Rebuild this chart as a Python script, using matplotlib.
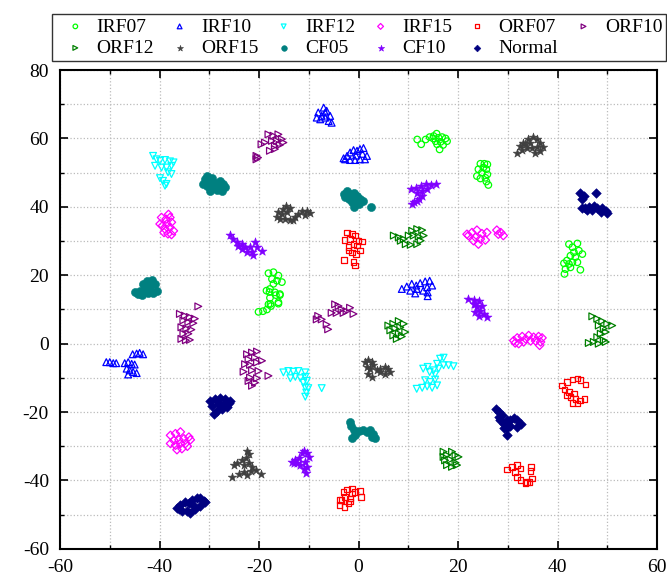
import matplotlib
matplotlib.use("Agg")
import matplotlib.pyplot as plt
from matplotlib.ticker import MultipleLocator

plt.rcParams["font.family"] = ["Liberation Serif", "DejaVu Serif"]
plt.rcParams["axes.unicode_minus"] = False

# t-SNE embedding, points (x, y) per class
IRF07 = [
    (11.8, 59.7), (12.6, 58.3), (13.5, 59.7), (14.3, 60.4), (15.1, 60.7), (15.7, 61.4),
    (16.1, 60.2), (16.8, 60.4), (17.5, 60.0), (17.8, 59.2), (17.0, 58.1), (16.3, 56.8),
    (15.8, 58.3), (15.5, 59.2), (15.0, 60.0), (16.5, 59.0),
    (24.5, 52.6), (25.3, 52.6), (25.9, 52.4), (24.1, 51.0), (25.7, 51.0), (24.8, 50.0),
    (23.8, 49.0), (24.5, 48.3), (25.5, 48.5), (25.7, 47.4), (26.1, 46.4), (25.9, 49.5),
    (25.1, 51.5),
    (42.3, 29.1), (43.0, 28.2), (44.0, 29.3), (43.3, 26.7), (44.3, 27.2), (45.0, 26.2),
    (42.6, 25.7), (43.6, 25.3), (41.9, 24.3), (41.3, 23.5), (42.3, 23.3), (43.0, 23.8),
    (44.0, 23.8), (41.6, 21.8), (41.4, 20.4), (44.6, 21.6), (42.6, 22.3),
    (-18.1, 20.6), (-17.1, 20.9), (-16.1, 19.9), (-17.4, 18.9), (-16.4, 18.4),
    (-15.4, 18.0), (-17.1, 17.5), (-17.8, 16.0), (-18.5, 15.5), (-16.8, 15.0),
    (-15.8, 14.5), (-16.1, 12.1), (-17.7, 11.6), (-17.9, 15.1), (-16.6, 14.2),
    (-15.8, 14.2), (-17.8, 13.4), (-18.1, 11.5), (-17.6, 11.0), (-18.4, 10.0),
    (-19.2, 9.5), (-20.1, 9.3), (-16.1, 11.7),
]
IRF10 = [
    (-8.1, 67.6), (-7.0, 69.0), (-6.4, 68.1), (-7.4, 66.6), (-8.4, 66.1), (-6.7, 66.1),
    (-5.7, 66.6), (-6.0, 65.1), (-5.4, 64.6), (-7.7, 65.6), (-6.7, 67.6),
    (-3.0, 54.2), (-2.3, 54.9), (-1.7, 55.9), (-1.0, 56.6), (-0.3, 56.4), (0.3, 56.9),
    (1.0, 57.2), (1.7, 54.9), (1.3, 53.9), (0.3, 53.9), (-0.7, 53.7), (-1.7, 53.7),
    (-2.7, 53.9), (0.8, 55.5), (-0.5, 55.0),
    (8.7, 16.0), (9.7, 16.7), (10.7, 17.5), (11.6, 17.0), (12.4, 17.7), (13.4, 18.2),
    (14.3, 18.4), (14.8, 17.0), (13.8, 16.5), (13.9, 15.0), (13.0, 15.5), (11.7, 16.0),
    (10.4, 15.5), (11.4, 14.7), (13.9, 13.9),
    (-50.7, -5.4), (-50.0, -5.4), (-49.3, -5.7), (-48.7, -5.7), (-47.0, -5.7),
    (-46.3, -5.4), (-45.6, -5.9), (-45.0, -6.1), (-45.4, -3.1), (-44.6, -2.9),
    (-44.0, -2.7), (-43.3, -3.1), (-46.6, -7.3), (-46.0, -7.8), (-45.3, -8.3),
    (-44.6, -8.6), (-46.3, -9.0),
]
IRF12 = [
    (-41.3, 54.9), (-40.6, 53.9), (-39.9, 53.5), (-38.9, 53.7), (-37.9, 53.3), (-37.2, 53.0),
    (-40.9, 52.0), (-39.6, 51.5), (-38.6, 51.5), (-38.3, 50.1), (-37.6, 49.6), (-39.9, 48.4),
    (-39.3, 47.6), (-38.6, 46.7), (-38.9, 46.2), (-37.6, 52.0),
    (-15.1, -8.4), (-14.1, -8.0), (-13.1, -8.2), (-12.1, -8.0), (-10.7, -8.4), (-13.7, -10.1),
    (-12.7, -9.7), (-11.7, -10.1), (-10.7, -9.7), (-11.1, -11.4), (-10.4, -10.9),
    (-10.7, -12.8), (-10.1, -13.0), (-10.5, -14.3), (-10.7, -15.5), (-7.4, -13.0),
    (11.7, -13.2), (12.8, -12.9), (13.8, -12.5), (14.8, -12.9), (15.8, -12.2), (13.4, -10.7),
    (14.4, -11.2), (15.4, -10.5), (13.0, -7.3), (13.9, -6.8), (15.1, -7.8), (16.1, -7.3),
    (17.1, -6.3), (18.1, -6.3), (19.1, -6.6), (16.4, -4.4), (17.1, -4.1), (15.8, -5.9),
    (14.3, -8.3), (15.4, -9.0),
]
IRF15 = [
    (-39.6, 36.9), (-38.7, 36.4), (-37.9, 36.9), (-37.6, 35.5), (-38.5, 35.0), (-39.4, 34.5),
    (-39.9, 35.0), (-38.9, 33.5), (-37.9, 34.0), (-37.2, 33.0), (-38.3, 32.1), (-37.6, 31.9),
    (-39.1, 32.5), (-38.2, 37.8),
    (-37.8, -26.8), (-36.8, -26.3), (-35.8, -25.8), (-37.1, -28.3), (-36.1, -28.1),
    (-35.1, -27.8), (-34.1, -27.3), (-33.8, -28.1), (-37.8, -29.2), (-36.8, -29.7),
    (-35.8, -29.2), (-34.8, -29.2), (-36.5, -31.0), (-35.5, -30.7), (-34.4, -30.0),
    (21.8, 32.0), (22.8, 32.5), (23.8, 33.2), (24.8, 32.2), (25.8, 32.5), (23.5, 31.1),
    (24.5, 30.6), (25.5, 30.3), (24.1, 29.1), (23.1, 30.1), (22.1, 31.6),
    (27.8, 33.2), (28.6, 32.5), (29.1, 31.6), (28.1, 32.0),
    (31.2, 0.9), (31.9, 1.7), (32.9, 2.1), (33.6, 1.4), (34.2, 2.4), (35.2, 1.9),
    (36.2, 2.1), (36.9, 1.7), (36.6, 0.5), (36.4, -0.5), (35.6, 0.8), (34.6, 0.8),
    (33.2, 0.5), (32.2, 0.0), (31.5, 0.2),
]
ORF07 = [
    (-2.3, 32.5), (-1.3, 32.1), (-0.7, 31.6), (-1.7, 30.6), (0.0, 30.1), (0.7, 29.9),
    (-1.0, 29.1), (-2.0, 28.2), (-0.3, 28.7), (-1.3, 26.7), (-0.5, 26.2), (-1.0, 23.8),
    (-0.7, 22.8), (-2.9, 24.5), (-2.0, 27.2), (0.3, 27.2), (-2.8, 30.3),
    (40.9, -12.2), (41.9, -11.2), (43.0, -10.5), (44.0, -10.2), (44.6, -10.7), (45.6, -11.9),
    (41.4, -13.4), (42.3, -14.1), (43.3, -14.6), (42.6, -15.6), (43.6, -16.1), (44.5, -16.6),
    (45.4, -16.1), (43.0, -17.3), (44.0, -17.5), (41.9, -15.1),
    (29.9, -36.8), (30.9, -36.0), (31.9, -35.5), (32.6, -36.5), (31.5, -37.5), (31.9, -38.9),
    (32.6, -39.9), (33.6, -40.7), (34.4, -40.4), (34.9, -39.4), (34.6, -37.2), (34.7, -36.0),
    (33.9, -40.4),
    (-3.0, -43.3), (-2.3, -42.6), (-1.3, -42.3), (-0.7, -43.3), (0.3, -43.0), (0.5, -44.8),
    (-2.7, -44.8), (-1.7, -45.3), (-2.0, -46.7), (-3.4, -45.7), (-1.3, -43.8),
    (-3.7, -45.7), (-3.8, -47.2), (-2.8, -47.7), (-1.7, -46.2),
]
ORF10 = [
    (-18.1, 61.2), (-17.1, 60.8), (-16.1, 61.2), (-15.4, 59.8), (-16.4, 59.3), (-17.4, 59.3),
    (-16.8, 57.8), (-15.8, 58.1), (-15.1, 58.8), (-19.5, 58.3), (-18.8, 58.8), (-20.5, 54.9),
    (-20.2, 54.4), (-17.8, 56.4), (-16.8, 56.9), (-20.5, 53.9),
    (-35.9, 8.7), (-34.9, 8.2), (-33.9, 7.8), (-32.9, 7.3), (-35.2, 6.8), (-34.2, 6.3),
    (-33.2, 6.0), (-35.6, 4.8), (-34.6, 4.4), (-33.6, 4.1), (-35.2, 2.9), (-34.2, 2.9),
    (-35.6, 1.4), (-34.7, 1.0), (-33.9, 1.1), (-32.2, 10.9),
    (-22.4, -3.1), (-21.4, -2.6), (-20.4, -2.3), (-22.1, -4.6), (-20.8, -4.1), (-19.4, -5.0),
    (-22.8, -6.0), (-21.8, -6.2), (-20.4, -5.5), (-23.1, -8.2), (-21.4, -7.8), (-20.1, -8.0),
    (-21.8, -9.9), (-20.4, -10.1), (-18.1, -9.4), (-21.4, -12.3), (-20.8, -11.4),
    (-22.1, -10.9),
    (-8.1, 8.1), (-7.4, 7.1), (-8.4, 7.1), (-6.4, 5.6), (-6.1, 4.2), (-4.7, 11.5),
    (-4.0, 11.0), (-3.4, 10.0), (-4.4, 9.0), (-5.4, 9.0), (-3.0, 9.0), (-1.7, 10.5),
    (-1.0, 8.7), (-2.4, 9.5),
]
ORF12 = [
    (7.1, 31.6), (8.1, 31.1), (9.1, 30.6), (10.1, 31.6), (10.8, 33.0), (11.8, 33.5),
    (12.8, 33.2), (11.1, 31.6), (12.1, 31.3), (13.1, 31.6), (9.5, 29.1), (10.5, 28.9),
    (11.8, 29.1), (8.5, 30.1), (12.5, 30.1),
    (6.0, 5.3), (7.0, 5.8), (8.1, 6.6), (9.1, 5.8), (6.4, 3.9), (7.4, 4.4), (8.4, 4.8),
    (9.4, 3.4), (7.0, 2.4), (8.1, 2.9), (8.7, 2.1), (7.7, 1.4),
    (47.0, 8.0), (48.0, 7.3), (49.0, 6.6), (50.0, 5.8), (51.0, 5.3), (48.3, 5.3),
    (49.3, 4.4), (48.7, 2.9), (49.7, 3.4), (48.0, 1.9), (49.3, 1.0), (46.3, 0.2),
    (47.3, 0.5), (48.3, 0.0), (49.7, 0.5),
    (17.1, -31.6), (17.8, -32.6), (18.8, -31.6), (19.5, -32.6), (20.1, -33.1), (17.4, -34.1),
    (18.5, -33.9), (19.5, -34.8), (17.8, -35.5), (18.8, -36.0), (19.8, -35.5), (17.1, -33.1),
]
ORF15 = [
    (-16.4, 36.9), (-15.4, 37.9), (-14.4, 38.4), (-13.8, 39.8), (-14.6, 40.3), (-15.8, 36.4),
    (-14.8, 36.4), (-13.8, 36.1), (-12.8, 36.9), (-12.1, 37.9), (-11.4, 38.9), (-10.4, 38.9),
    (-9.7, 38.1), (-10.7, 37.7), (-13.1, 36.1), (-16.1, 38.4), (-15.1, 39.4),
    (31.8, 55.8), (32.5, 57.8), (33.1, 58.7), (34.1, 59.7), (35.1, 60.4), (35.8, 59.7),
    (36.5, 58.7), (37.0, 57.5), (36.5, 56.3), (35.5, 55.8), (34.8, 57.3), (33.8, 57.3),
    (32.8, 56.5), (35.8, 57.5), (34.5, 58.7), (33.5, 58.3),
    (1.3, -5.4), (2.0, -4.9), (2.7, -5.4), (3.0, -6.3), (1.7, -6.8), (2.3, -7.3),
    (2.0, -8.8), (2.7, -9.7), (3.7, -7.8), (4.4, -7.3), (5.4, -6.8), (6.0, -7.3),
    (6.4, -8.3), (5.4, -8.8), (4.4, -8.3),
    (-22.4, -31.4), (-22.1, -32.3), (-22.7, -33.3), (-23.4, -34.1), (-24.4, -34.9),
    (-25.1, -35.5), (-23.1, -35.5), (-22.1, -35.0), (-21.4, -36.0), (-21.7, -37.2),
    (-20.7, -37.0), (-19.7, -38.0), (-23.1, -37.5), (-24.1, -38.0), (-22.4, -38.4),
    (-25.4, -38.9),
]
CF05 = [
    (-30.5, 49.1), (-30.9, 48.1), (-30.2, 47.6), (-29.5, 48.4), (-28.9, 47.1), (-27.9, 47.6),
    (-27.2, 46.8), (-26.8, 45.7), (-27.5, 44.5), (-28.5, 44.8), (-29.5, 45.7), (-30.5, 46.2),
    (-31.2, 46.7), (-28.9, 45.7), (-29.9, 44.6), (-27.9, 45.9),
    (-3.0, 43.7), (-2.3, 44.5), (-1.7, 43.7), (-1.0, 44.2), (-0.3, 43.2), (-0.7, 42.0),
    (-1.3, 41.3), (-2.0, 42.3), (0.3, 42.3), (1.0, 41.8), (2.5, 40.0), (-2.7, 42.8),
    (-1.0, 40.0), (0.0, 40.8),
    (-45.0, 15.0), (-44.0, 15.5), (-43.0, 16.0), (-43.3, 17.5), (-42.5, 18.4), (-41.6, 18.6),
    (-40.9, 17.5), (-40.6, 15.5), (-41.3, 14.7), (-42.3, 14.7), (-43.6, 14.1), (-44.3, 14.4),
    (-41.9, 16.7), (-42.6, 17.0),
    (-1.8, -22.9), (-1.5, -24.1), (-1.0, -25.3), (-0.7, -26.8), (-1.3, -27.5), (0.0, -25.5),
    (1.0, -25.3), (1.7, -25.8), (2.3, -25.3), (3.0, -26.3), (3.4, -27.5), (2.7, -27.3),
]
CF10 = [
    (-25.8, 31.9), (-25.2, 30.6), (-24.5, 29.6), (-23.5, 29.1), (-22.8, 28.2), (-21.8, 28.2),
    (-20.8, 29.6), (-20.5, 28.2), (-19.5, 27.2), (-21.5, 26.7), (-22.5, 26.7), (-21.2, 26.0),
    (-23.5, 27.7), (-24.2, 28.7),
    (10.5, 45.1), (11.5, 45.6), (12.5, 46.1), (13.5, 46.6), (14.5, 46.4), (15.5, 46.6),
    (13.8, 45.1), (12.8, 44.7), (11.8, 44.2), (12.8, 43.2), (12.1, 42.2), (11.1, 41.3),
    (10.8, 40.8), (11.7, 41.7),
    (22.1, 13.1), (23.2, 12.8), (24.2, 12.6), (23.5, 11.6), (24.8, 11.1), (23.2, 11.7),
    (23.8, 10.7), (24.5, 9.7), (25.2, 8.7), (25.8, 7.8), (24.2, 8.2), (23.5, 9.2),
    (-13.4, -34.6), (-12.7, -33.9), (-12.0, -33.3), (-11.4, -32.1), (-11.0, -31.4),
    (-10.4, -31.9), (-10.0, -33.1), (-10.7, -34.6), (-11.7, -35.5), (-12.4, -35.0),
    (-10.4, -36.0), (-10.5, -37.8), (-11.0, -36.5), (-13.0, -35.0),
]
Normal = [
    (44.6, 44.2), (45.3, 43.2), (45.0, 42.3), (47.7, 44.2), (45.0, 39.8), (45.6, 39.6),
    (46.3, 40.0), (47.3, 40.3), (48.0, 39.8), (49.0, 39.6), (49.7, 38.9), (50.0, 38.1),
    (48.7, 38.4), (47.0, 39.1), (46.0, 39.1),
    (-29.8, -16.7), (-28.8, -16.2), (-27.8, -15.9), (-26.8, -16.2), (-26.1, -17.2),
    (-26.5, -18.6), (-27.5, -19.1), (-28.5, -19.6), (-29.1, -20.6), (-29.5, -18.2),
    (-28.1, -17.7), (-27.1, -17.7), (-25.8, -16.7),
    (27.7, -19.0), (28.2, -20.0), (28.9, -20.9), (28.5, -22.4), (29.2, -23.4), (29.9, -22.4),
    (30.5, -22.4), (31.2, -21.6), (31.9, -22.2), (32.6, -23.4), (31.9, -24.3), (30.5, -24.1),
    (29.9, -24.8), (29.9, -26.8), (29.2, -24.8), (28.2, -21.4),
    (-36.5, -47.9), (-35.8, -47.2), (-34.8, -46.2), (-34.1, -46.7), (-33.4, -45.7),
    (-32.4, -45.0), (-31.8, -45.2), (-31.1, -45.9), (-30.8, -46.2), (-31.8, -47.5),
    (-32.8, -48.2), (-33.8, -49.4), (-34.4, -48.8), (-35.5, -48.8), (-36.1, -48.2),
    (-33.1, -47.5),
]

names = ["IRF07", "IRF10", "IRF12", "IRF15", "ORF07", "ORF10",
         "ORF12", "ORF15", "CF05", "CF10", "Normal"]
groups = [IRF07, IRF10, IRF12, IRF15, ORF07, ORF10, ORF12, ORF15, CF05, CF10, Normal]
colors = ["#00ff00", "#0000ff", "#00ffff", "#ff00ff", "#ff0000", "#800080",
          "#008000", "#404040", "#008080", "#8000ff", "#000080"]
markers = ["o", "^", "v", "D", "s", ">", ">", "*", "o", "*", "D"]
filled = [False, False, False, False, False, False, False, True, True, True, True]
sizes = [22, 24, 24, 18, 16, 24, 24, 42, 34, 46, 24]

fig = plt.figure(figsize=(6.67, 5.79), dpi=100)
ax = fig.add_axes([0.090, 0.052, 0.895, 0.827])

handles = []
for name, pts, c, m, f, s in zip(names, groups, colors, markers, filled, sizes):
    xs = [p[0] for p in pts]
    ys = [p[1] for p in pts]
    if f:
        h = ax.scatter(xs, ys, s=s, marker=m, color=c, linewidths=0.4, label=name, zorder=3)
    else:
        h = ax.scatter(xs, ys, s=s, marker=m, facecolors="none", edgecolors=c,
                       linewidths=0.9, label=name, zorder=3)
    handles.append(h)

ax.set_xlim(-60, 60)
ax.set_ylim(-60, 80)
ax.xaxis.set_major_locator(MultipleLocator(20))
ax.xaxis.set_minor_locator(MultipleLocator(10))
ax.yaxis.set_major_locator(MultipleLocator(20))
ax.yaxis.set_minor_locator(MultipleLocator(10))
ax.grid(True, which="both", ls=":", color="#bbbbbb", lw=0.9)
ax.set_axisbelow(True)
ax.tick_params(which="both", direction="in", top=True, right=True, labelsize=14)
ax.tick_params(which="major", length=6, width=1.2)
ax.tick_params(which="minor", length=3, width=1.0)
ax.tick_params(axis="x", which="major", pad=7)
ax.tick_params(axis="y", which="major", pad=8)
for sp in ax.spines.values():
    sp.set_linewidth(1.5)

# legend fills column by column, so reorder to get the two rows of the original
order = [0, 6, 1, 7, 2, 8, 3, 9, 4, 10, 5]
leg = fig.legend([handles[i] for i in order], [names[i] for i in order],
                 loc="upper left", bbox_to_anchor=(52 / 667, 1 - 14 / 579), ncol=6,
                 fontsize=14, frameon=True, fancybox=False, edgecolor="black",
                 markerscale=0.7, handlelength=2.0, handletextpad=0.1,
                 columnspacing=0.3, labelspacing=0.2, borderpad=0.2, borderaxespad=0)
leg.get_frame().set_linewidth(1.0)

fig.savefig("out.png", dpi=100)
